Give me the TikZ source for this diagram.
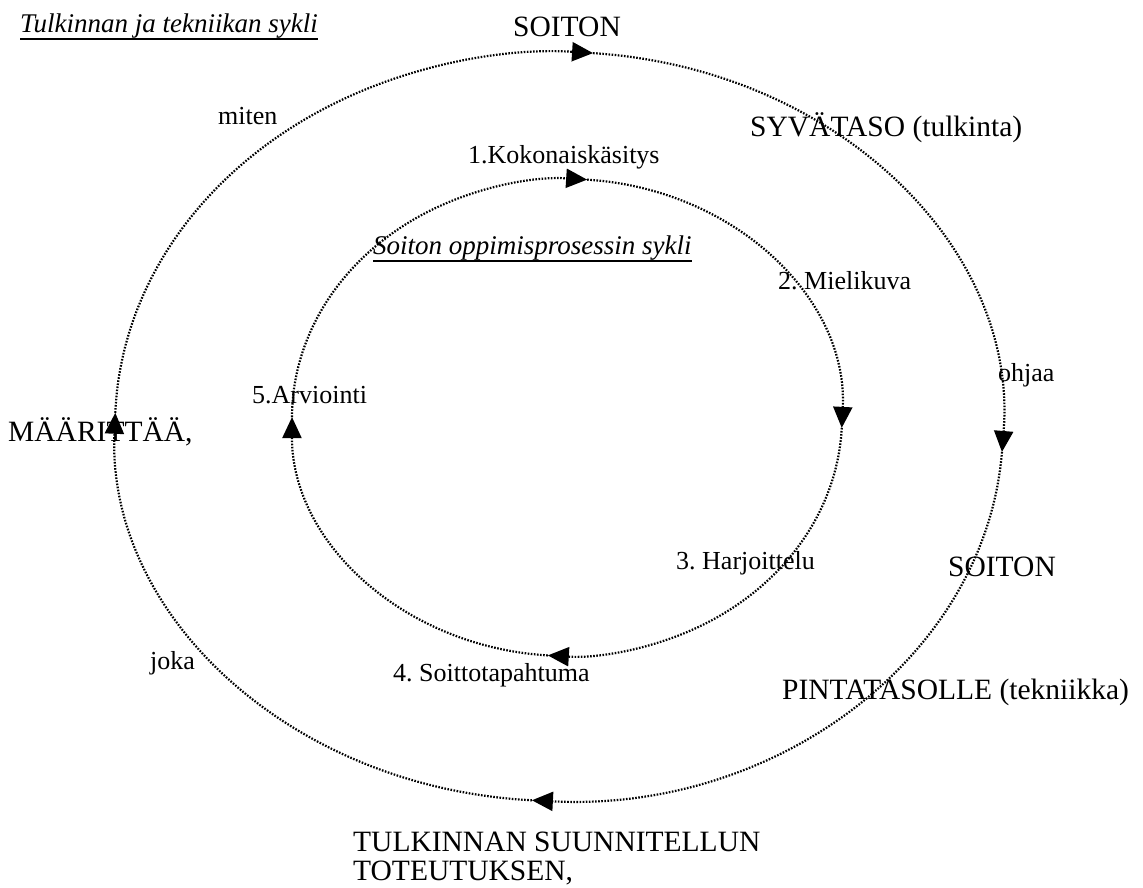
\documentclass[tikz,border=0pt]{standalone}
\usepackage{fontspec}
\setmainfont{Liberation Serif}
\usetikzlibrary{arrows.meta}
\newcommand{\bigtxt}{\fontsize{29.5}{34}\selectfont}
\newcommand{\smalltxt}{\fontsize{26}{30}\selectfont}
\newcommand{\titletxt}{\fontsize{27}{31}\selectfont\itshape}
% underline with a fixed depth and weight
\newcommand{\ulined}[1]{\setbox0\hbox{#1}\rlap{\rule[-7pt]{\wd0}{1.7pt}}\box0}
\frenchspacing

\tikzset{
  cyc/.style={line width=2.2pt, dash pattern=on 1.6pt off 1.5pt,
              -{Triangle[length=21pt,width=19pt]}},
  lbl/.style={inner sep=0pt, anchor=base west},
  bigtext/.style={lbl, font=\bigtxt},
  smalltext/.style={lbl, font=\smalltxt},
  titletext/.style={lbl, font=\titletxt},
}

\begin{document}
\begin{tikzpicture}[x=1pt,y=1pt]
  \useasboundingbox (0,0) rectangle (1143,888);

  % centres of the two cycles
  \coordinate (oc) at (559,461.5);
  \coordinate (ic) at (567,470.5);

  % outer cycle: arrow tips on the ellipse
  \path (oc) ++(177.9:444 and 374.5) coordinate (oL);
  \path (oc) ++(85.6:444 and 374.5) coordinate (oT);
  \path (oc) ++(-3.9:444 and 374.5) coordinate (oR);
  \path (oc) ++(-93.5:444 and 374.5) coordinate (oB);

  \draw[cyc] (oL) arc[start angle=177.9, end angle=85.6, x radius=444, y radius=374.5];
  \draw[cyc] (oT) arc[start angle=85.6, end angle=-3.9, x radius=444, y radius=374.5];
  \draw[cyc] (oR) arc[start angle=-3.9, end angle=-93.5, x radius=444, y radius=374.5];
  \draw[cyc] (oB) arc[start angle=-93.5, end angle=-182.1, x radius=444, y radius=374.5];

  % inner cycle
  \path (ic) ++(179.9:275 and 238.5) coordinate (iL);
  \path (ic) ++(85.8:275 and 238.5) coordinate (iT);
  \path (ic) ++(-2.5:275 and 238.5) coordinate (iR);
  \path (ic) ++(-94:275 and 238.5) coordinate (iB);

  \draw[cyc] (iL) arc[start angle=179.9, end angle=85.8, x radius=275, y radius=238.5];
  \draw[cyc] (iT) arc[start angle=85.8, end angle=-2.5, x radius=275, y radius=238.5];
  \draw[cyc] (iR) arc[start angle=-2.5, end angle=-94, x radius=275, y radius=238.5];
  \draw[cyc] (iB) arc[start angle=-94, end angle=-180.1, x radius=275, y radius=238.5];

  % titles
  \node[titletext] (t1) at (20,855) {\ulined{Tulkinnan ja tekniikan sykli}};
  \node[titletext] (t2) at (373,633) {\ulined{Soiton oppimisprosessin sykli}};

  % outer cycle labels
  \node[bigtext, anchor=base] (soiton1) at (567,851) {SOITON};
  \node[smalltext] (miten) at (218,763) {miten};
  \node[bigtext] (syva) at (750,751) {SYVÄTASO (tulkinta)};
  \node[smalltext] (ohjaa) at (998,506) {ohjaa};
  \node[bigtext] (maar) at (8,446) {MÄÄRITTÄÄ,};
  \node[bigtext] (soiton2) at (948,311) {SOITON};
  \node[smalltext] (joka) at (150,218) {joka};
  \node[bigtext] (pinta) at (782,188) {PINTATASOLLE (tekniikka)};
  \node[bigtext] (tul1) at (353,36) {TULKINNAN SUUNNITELLUN};
  \node[bigtext] (tul2) at (353,7) {TOTEUTUKSEN,};

  % inner cycle labels
  \node[smalltext] (s1) at (468,724) {1.Kokonaiskäsitys};
  \node[smalltext] (s2) at (778,598) {2. Mielikuva};
  \node[smalltext] (s3) at (676,318) {3. Harjoittelu};
  \node[smalltext] (s4) at (393,206) {4. Soittotapahtuma};
  \node[smalltext] (s5) at (252,484) {5.Arviointi};
\end{tikzpicture}
\end{document}
